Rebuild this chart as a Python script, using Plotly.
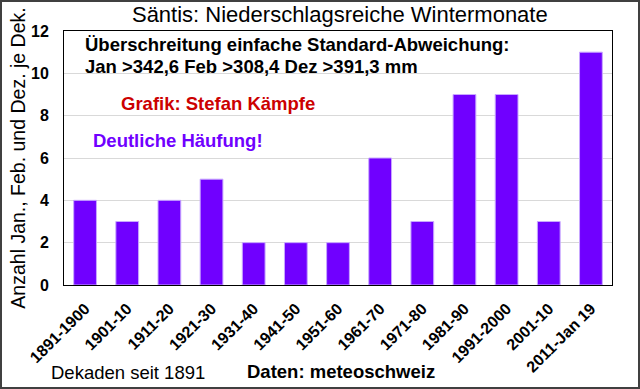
import plotly.graph_objects as go

categories = ["1891-1900", "1901-10", "1911-20", "1921-30", "1931-40", "1941-50",
              "1951-60", "1961-70", "1971-80", "1981-90", "1991-2000", "2001-10", "2011-Jan 19"]
values = [4, 3, 4, 5, 2, 2, 2, 6, 3, 9, 9, 3, 11]
y_ticks = [0, 2, 4, 6, 8, 10, 12]

FONT = "Liberation Sans, Arial, sans-serif"
BAR = "#7000FF"

fig = go.Figure()
fig.add_trace(go.Bar(x=categories, y=values, marker=dict(color=BAR, line=dict(color="#C8A8FF", width=1)),
                     width=0.54))

fig.update_layout(
    width=640, height=389,
    margin=dict(l=64, r=28, t=31, b=104),
    paper_bgcolor="white", plot_bgcolor="white",
    showlegend=False,
    font=dict(family=FONT, color="black"),
    title=dict(text="Säntis: Niederschlagsreiche Wintermonate", x=0.531, xanchor="center",
               y=0.962, yanchor="middle", font=dict(size=22, family=FONT, color="black")),
    xaxis=dict(type="category", tickangle=-45, tickfont=dict(size=16, family=FONT, weight="bold"),
               ticklabelstandoff=7,
               showline=True, linecolor="black", linewidth=1, mirror=True, ticks="", showgrid=False),
    yaxis=dict(range=[0, 12], tickvals=y_ticks, tickfont=dict(size=16, family=FONT, weight="bold"),
               ticklabelstandoff=11,
               showline=True, linecolor="black", linewidth=1, mirror=True, ticks="",
               gridcolor="#D9D9D9", gridwidth=1, zeroline=False,
               title=dict(text="Anzahl Jan., Feb. und Dez. je Dek.", font=dict(size=19.5, family=FONT), standoff=0)),
)

anns = [
    dict(text="Überschreitung einfache Standard-Abweichung:", x=83, y=44, color="black", size=18.5, bold=True),
    dict(text="Jan >342,6 Feb >308,4 Dez >391,3 mm", x=83, y=66, color="black", size=18.5, bold=True),
    dict(text="Grafik: Stefan Kämpfe", x=119, y=103, color="#CC0000", size=18.5, bold=True),
    dict(text="Deutliche Häufung!", x=91, y=140, color=BAR, size=18.5, bold=True),
    dict(text="Dekaden seit 1891", x=49, y=372, color="black", size=18.5, bold=False),
    dict(text="Daten: meteoschweiz", x=245, y=371, color="black", size=18.5, bold=True),
]
for a in anns:
    fig.add_annotation(text=a["text"], xref="paper", yref="paper",
                       x=(a["x"] - 64) / (640 - 64 - 28), y=(389 - 104 - a["y"]) / (389 - 31 - 104),
                       xanchor="left", yanchor="middle", showarrow=False,
                       font=dict(size=a["size"], family=FONT, color=a["color"], weight="bold" if a["bold"] else "normal"))

fig.add_shape(type="rect", xref="paper", yref="paper",
              x0=(1 - 64) / 548, x1=(639 - 64) / 548, y0=(389 - 104 - 388) / 254, y1=(389 - 104 - 1) / 254,
              line=dict(color="#404040", width=2), fillcolor="rgba(0,0,0,0)", layer="below")

fig.write_html("out.html")
